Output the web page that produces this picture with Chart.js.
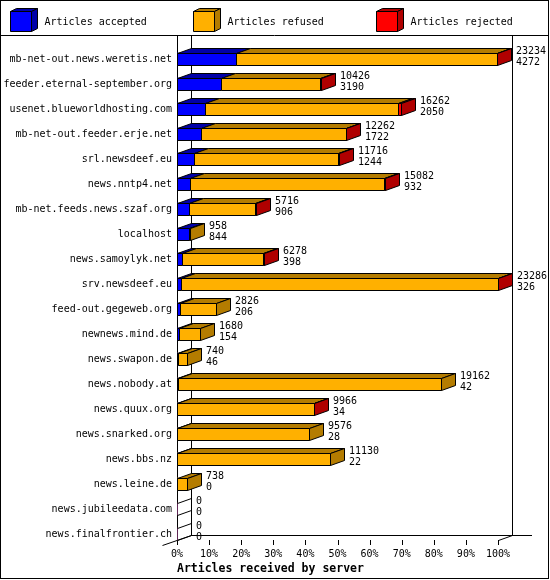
<!DOCTYPE html>
<html><head><meta charset="utf-8">
<script src="https://cdn.jsdelivr.net/npm/chart.js@4/dist/chart.umd.min.js"></script>
<style>html,body{margin:0;padding:0;background:#fff}#wrap{width:550px;height:580px}</style>
</head><body><div id="wrap"><canvas id="c" width="550" height="580"></canvas></div>
<script>
const servers = ['mb-net-out.news.weretis.net','feeder.eternal-september.org','usenet.blueworldhosting.com','mb-net-out.feeder.erje.net','srl.newsdeef.eu','news.nntp4.net','mb-net.feeds.news.szaf.org','localhost','news.samoylyk.net','srv.newsdeef.eu','feed-out.gegeweb.org','newnews.mind.de','news.swapon.de','news.nobody.at','news.quux.org','news.snarked.org','news.bbs.nz','news.leine.de','news.jubileedata.com','news.finalfrontier.ch'];
const totalReceived = [23234,10426,16262,12262,11716,15082,5716,958,6278,23286,2826,1680,740,19162,9966,9576,11130,738,0,0];
const accepted = [4272,3190,2050,1722,1244,932,906,844,398,326,206,154,46,42,34,28,22,0,0,0];
const refused = [18922,7186,14002,10520,10457,14110,4780,114,5820,22930,2620,1526,694,19120,9882,9548,11108,738,0,0];
const rejected = [40,50,210,20,15,40,30,0,60,30,0,0,0,0,50,0,0,0,0,0];
const seriesNames = ['Articles accepted','Articles refused','Articles rejected'];
const xTickValues = [0,10,20,30,40,50,60,70,80,90,100];
const axisTitle = 'Articles received by server';

const FRONT = ['#0000ff','#ffb000','#ff0000'];
const DARK = ['#0000a8','#b47c00','#b00000'];
const FONT = '"DejaVu Sans Mono", "Liberation Mono", monospace';
const DX = 14, DY = 5, HALF = 6;
const series = [accepted, refused, rejected];
const maxTotal = Math.max(...totalReceived);

function poly(c, pts, fill){
  c.beginPath();
  pts.forEach((p,i)=> i ? c.lineTo(p[0]+.5,p[1]+.5) : c.moveTo(p[0]+.5,p[1]+.5));
  c.closePath();
  if (fill){ c.fillStyle = fill; c.fill(); }
  c.stroke();
}
function box(c,x1,y1,w,h,dx,dy,front,dark,side){
  poly(c,[[x1,y1],[x1+w,y1],[x1+w,y1+h],[x1,y1+h]],front);
  poly(c,[[x1,y1],[x1+dx,y1-dy],[x1+w+dx,y1-dy],[x1+w,y1]],dark);
  if (side) poly(c,[[x1+w,y1],[x1+w+dx,y1-dy],[x1+w+dx,y1+h-dy],[x1+w,y1+h]],dark);
}
function seg(c,x1,y1,x2,y2){ c.beginPath(); c.moveTo(x1,y1); c.lineTo(x2,y2); c.stroke(); }

const frame3d = {
  id:'frame3d',
  beforeDraw(chart){
    const c = chart.ctx; c.save();
    c.fillStyle = '#fff'; c.fillRect(0,0,chart.width,chart.height);
    c.strokeStyle = '#000'; c.lineWidth = 1;
    c.strokeRect(0.5,0.5,548,578);
    seg(c,0,35.5,549,35.5);
    chart.data.datasets.forEach((ds,k)=>{
      const x0 = 10 + 183*k;
      box(c,x0,11,21,20,6,3,FRONT[k],DARK[k],true);
      c.fillStyle = '#000'; c.font = '10px ' + FONT;
      c.textBaseline = 'alphabetic'; c.textAlign = 'left';
      c.fillText(ds.label, x0 + 34.5, 24.5);
    });
    c.restore();
  },
  beforeDatasetsDraw(chart){
    const c = chart.ctx, a = chart.chartArea;
    const xs = chart.scales.x, ys = chart.scales.y;
    const L = Math.round(a.left), R = Math.round(a.right);
    const floorY = Math.round(ys.getPixelForValue(servers.length-1)) + HALF;
    const topY = 36;
    c.save(); c.strokeStyle = '#000'; c.lineWidth = 1;
    seg(c,L+.5,topY,L+.5,floorY+.5);
    seg(c,L+DX+.5,topY,L+DX+.5,floorY-DY+.5);
    seg(c,R+DX+.5,topY,R+DX+.5,floorY-DY+.5);
    seg(c,L+DX,floorY-DY+.5,R+DX+20,floorY-DY+.5);
    seg(c,L-15+.5,floorY+5+.5,L+DX+.5,floorY-DY+.5);
    seg(c,R+.5,floorY+.5,R+DX+.5,floorY-DY+.5);
    xTickValues.forEach(v=>{
      const x = Math.round(xs.getPixelForValue(v)) + .5;
      seg(c,x,floorY,x,floorY+5);
    });
    c.restore();
  },
  afterDatasetsDraw(chart){
    const c = chart.ctx, a = chart.chartArea;
    const ys = chart.scales.y;
    const L = Math.round(a.left);
    c.save(); c.strokeStyle = '#000'; c.lineWidth = 1;
    servers.forEach((name,i)=>{
      const cy = Math.round(ys.getPixelForValue(i));
      let last = -1;
      series.forEach((s,k)=>{ if (s[i] > 0) last = k; });
      let endX = L;
      if (last < 0){
        seg(c,L+.5,cy-HALF+.5,L+DX+.5,cy-HALF-DY+.5);
        seg(c,L+.5,cy+HALF+.5,L+DX+.5,cy+HALF-DY+.5);
      } else {
        series.forEach((s,k)=>{
          if (!(s[i] > 0)) return;
          const el = chart.getDatasetMeta(k).data[i];
          const X1 = Math.round(Math.min(el.base, el.x));
          const X2 = Math.round(Math.max(el.base, el.x));
          box(c,X1,cy-HALF,X2-X1,2*HALF,DX,DY,FRONT[k],DARK[k],k===last);
          endX = X2;
        });
      }
      c.fillStyle = '#000'; c.font = '10px ' + FONT;
      c.textAlign = 'left'; c.textBaseline = 'alphabetic';
      c.fillText(String(totalReceived[i]), endX + DX + 5, cy - 5);
      c.fillText(String(accepted[i]), endX + DX + 5, cy + 6);
    });
    c.restore();
  }
};

new Chart(document.getElementById('c'), {
  type:'bar',
  data:{
    labels: servers,
    datasets: series.map((s,k)=>({
      label: seriesNames[k],
      data: s.map(v => v / maxTotal * 100),
      backgroundColor: FRONT[k],
      borderWidth: 0,
      barThickness: 12
    }))
  },
  options:{
    indexAxis:'y', responsive:false, animation:false, devicePixelRatio:1,
    layout:{padding:{left:0,right:52,top:46.5,bottom:0}},
    plugins:{legend:{display:false}, tooltip:{enabled:false}},
    scales:{
      x:{
        stacked:true, min:0, max:100,
        grid:{display:false, drawTicks:false}, border:{display:false},
        afterBuildTicks: s => { s.ticks = xTickValues.map(v => ({value:v})); },
        ticks:{autoSkip:false, maxRotation:0, padding:1.5, color:'#000', font:{family:FONT,size:10}, callback: v => v + '%'},
        title:{display:true, text:axisTitle, align:'start', color:'#000', font:{family:FONT,size:11.5,weight:'bold'}, padding:{top:0,bottom:4.5}},
        afterFit: s => { s.height = 33.5; }
      },
      y:{
        stacked:true,
        grid:{display:false, drawTicks:false}, border:{display:false},
        ticks:{autoSkip:false, padding:5, color:'#000', font:{family:FONT,size:10}},
        afterFit: s => { s.width = 177; }
      }
    }
  },
  plugins:[frame3d]
});
</script>
</body></html>
